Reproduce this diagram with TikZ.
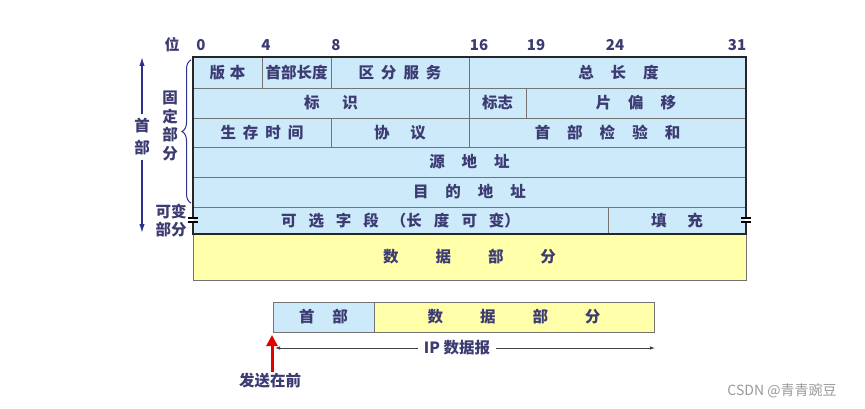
\documentclass[tikz,border=0pt]{standalone}
\usepackage{fontspec}
\setmainfont{Noto Sans CJK SC}
\usetikzlibrary{decorations.pathreplacing,arrows.meta}
\definecolor{cellblue}{RGB}{204,234,250}
\definecolor{datayellow}{RGB}{255,255,170}
\definecolor{txt}{RGB}{60,60,115}
\definecolor{navy}{RGB}{45,50,140}
\definecolor{gridgray}{RGB}{115,115,115}
\newcommand{\kk}[1]{\hspace*{#1pt}}
\newcommand{\cellnode}[7][cellblue]{\node[cell, fill=#1, minimum width={#4-#3}, minimum height={#6-#5}] (#2) at ({(#3+#4)/2},{(#5+#6)/2}) {#7};}
\begin{document}
\begin{tikzpicture}[x=1pt,y=-1pt,
  cell/.style={draw=gridgray, line width=0.8pt, inner sep=0pt, outer sep=0pt, text=txt, font=\fontsize{15.5}{18}\selectfont\bfseries},
  bitnum/.style={text=txt, font=\fontsize{15}{16}\selectfont\bfseries, inner sep=1pt},
  sidelab/.style={text=txt, font=\fontsize{15.5}{18.5}\selectfont\bfseries, align=center, inner sep=1pt},
  navyarrow/.style={navy, line width=1.4pt, -{Latex[length=9pt,width=5.5pt]}},
  breakmark/.style={line width=1.2pt, black}
]
\useasboundingbox (0,0) rectangle (865,409);
% bit numbers
\node[bitnum] (bw) at (172,45) {位};
\node[bitnum] (b0) at (201,45) {0};
\node[bitnum] (b4) at (266,45) {4};
\node[bitnum] (b8) at (336,45) {8};
\node[bitnum] (b16) at (479,45) {16};
\node[bitnum] (b19) at (536,45) {19};
\node[bitnum] (b24) at (615,45) {24};
\node[bitnum] (b31) at (737,45) {31};
% row 1
\cellnode{ver}{193}{262}{57}{88}{版\kk{5}本}
\cellnode{ihl}{262}{331}{57}{88}{首部长度}
\cellnode{tos}{331}{469}{57}{88}{区\kk{7}分\kk{7}服\kk{7}务}
\cellnode{tlen}{469}{746}{57}{88}{\kk{22}总\kk{17}长\kk{17}度}
% row 2
\cellnode{ident}{193}{469}{88}{118}{标\kk{23}识}
\cellnode{flags}{469}{526}{88}{118}{标志}
\cellnode{frag}{526}{746}{88}{118}{片\kk{17}偏\kk{17}移}
% row 3
\cellnode{ttl}{193}{331}{118}{147}{生\kk{7}存\kk{7}时\kk{7}间}
\cellnode{proto}{331}{469}{118}{147}{协\kk{21}议}
\cellnode{csum}{469}{746}{118}{147}{首\kk{17}部\kk{17}检\kk{17}验\kk{17}和}
% row 4, 5
\cellnode{src}{193}{746}{147}{177}{源\kk{17}地\kk{17}址}
\cellnode{dst}{193}{746}{177}{207}{目\kk{17}的\kk{17}地\kk{17}址}
% row 6
\cellnode{opt}{193}{608}{207}{234}{可\kk{12}选\kk{12}字\kk{12}段\kk{12}（长\kk{12}度\kk{12}可\kk{12}变）}
\cellnode{pad}{608}{746}{207}{234}{填\kk{21}充}
% data
\cellnode[datayellow]{data}{193}{746}{234}{280}{数\kk{37}据\kk{37}部\kk{37}分}
% thick header border
\draw[line width=1.8pt, black!85] (ver.north west) rectangle (pad.south east);
% break marks
\fill[cellblue] (190.5,218) rectangle (196,222);
\fill[white] (189,218.5) rectangle (192.5,221.5);
\fill[white] (745,218.5) rectangle (750,221.5);
\draw[breakmark] (188,218) -- (198,218) (188,222) -- (198,222);
\draw[breakmark] (741,218) -- (751,218) (741,222) -- (751,222);
% left annotations
\coordinate (htop) at (142,57);
\coordinate (hbot) at (142,233);
\node[sidelab, inner sep=4pt, font=\fontsize{15.5}{22}\selectfont\bfseries] (hlab) at (142,137) {首\\部};
\draw[navyarrow] (hlab) -- (htop);
\draw[navyarrow] (hlab) -- (hbot);
\draw[navy, line width=1pt, decorate, decoration={brace, amplitude=9pt}] (191,203) -- (191,60);
\node[sidelab] (fixed) at (170,126) {固\\定\\部\\分};
\node[sidelab, font=\fontsize{15.5}{18}\selectfont\bfseries] (var) at (171,221) {可变\\部分};
% bottom datagram
\cellnode{bhdr}{273}{374}{302}{332}{首\kk{18}部}
\cellnode[datayellow]{bdata}{374}{654}{302}{332}{数\kk{37}据\kk{37}部\kk{37}分}
\coordinate (ipL) at (275,348);
\coordinate (ipR) at (655,348);
\node[text=txt, fill=white, inner sep=6pt, font=\fontsize{15.5}{18}\selectfont\bfseries] (iplab) at (457,348) {IP 数据报};
\draw[black!75, line width=0.8pt, -{Latex[length=5pt,width=3.5pt]}] (iplab) -- (ipL);
\draw[black!75, line width=0.8pt, -{Latex[length=5pt,width=3.5pt]}] (iplab) -- (ipR);
\coordinate (sendtip) at (272,335);
\node[text=txt, font=\fontsize{15.5}{18}\selectfont\bfseries, inner sep=1pt] (send) at (270,381) {发送在前};
\draw[red!90!black, line width=3pt, -{Triangle[length=11pt,width=11pt]}] (send.north -| sendtip) -- (sendtip);
% watermark
\node[text=black!40, font=\fontsize{14}{15}\selectfont, inner sep=0pt] (wm) at (782,391) {CSDN @青青豌豆};
\end{tikzpicture}
\end{document}
